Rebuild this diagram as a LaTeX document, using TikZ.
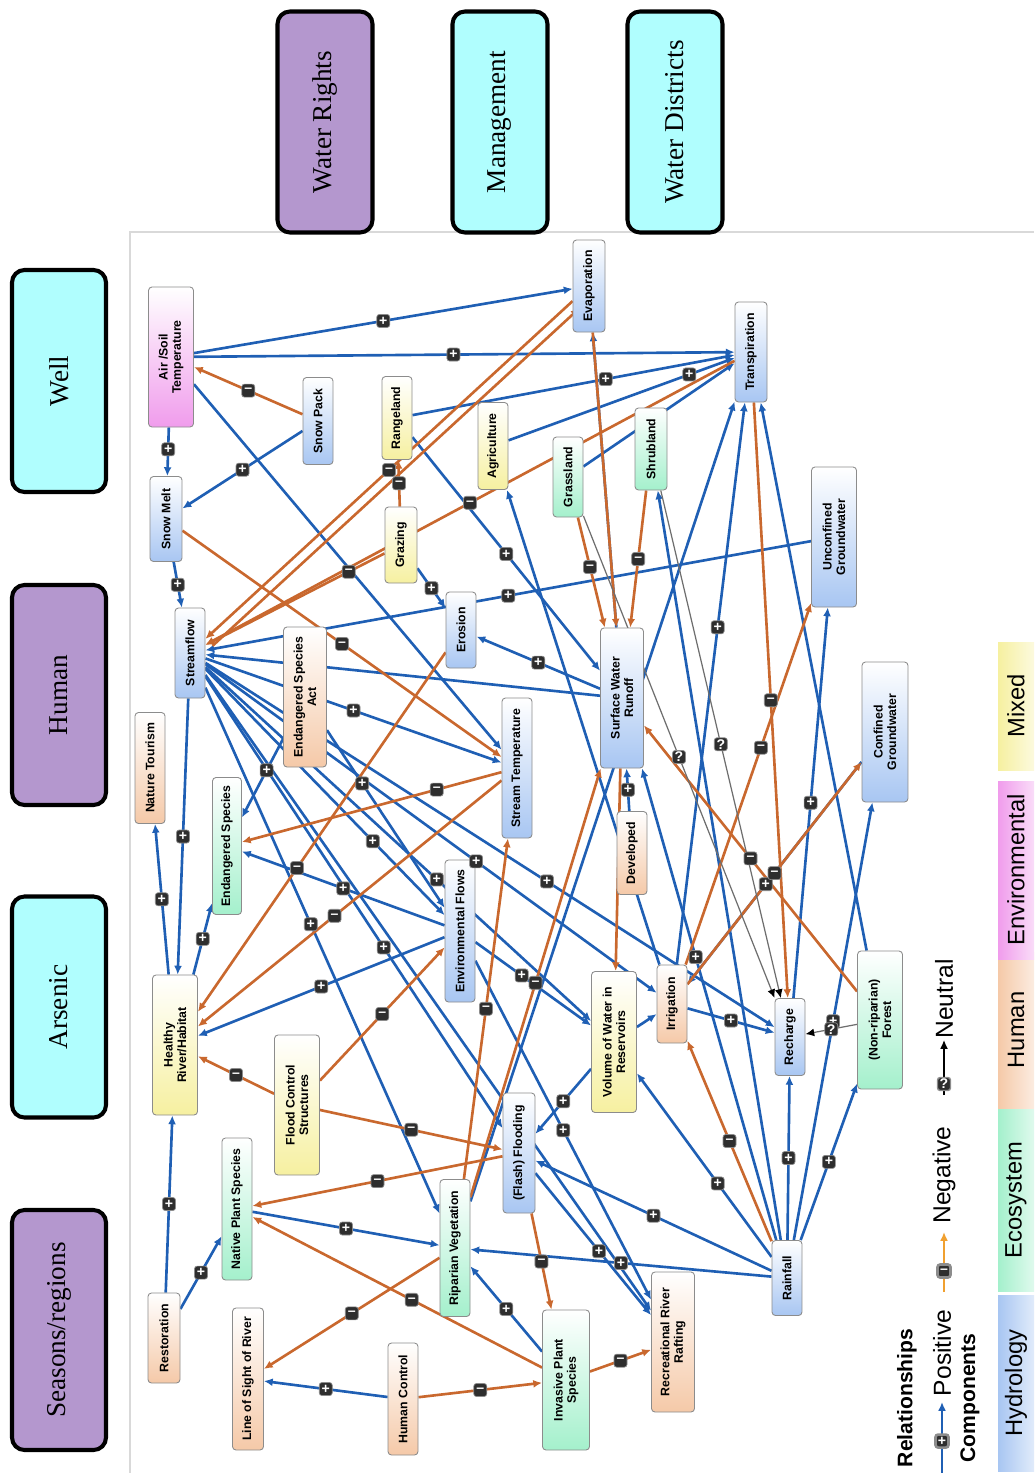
\documentclass[tikz,border=0pt]{standalone}
\usepackage{fontspec}
\setmainfont{Liberation Serif}
\setsansfont{Liberation Sans}
\usepackage{graphicx}
\usetikzlibrary{arrows.meta,backgrounds}
\definecolor{cPos}{HTML}{1F5FB4}
\definecolor{cNeg}{HTML}{C9682E}
\definecolor{cNeu}{HTML}{6E6E6E}
\definecolor{cAmb}{HTML}{F0A030}
\definecolor{cHyd}{HTML}{A8C6F2}
\definecolor{cEco}{HTML}{A4F0CC}
\definecolor{cHum}{HTML}{F5C9A8}
\definecolor{cEnv}{HTML}{F09CEC}
\definecolor{cMix}{HTML}{F6F0A0}
\definecolor{cPur}{HTML}{B497CE}
\definecolor{cCya}{HTML}{B0FEFE}
\newcommand{\pxu}{0.02cm}
\newcommand{\netfont}{\sffamily\bfseries\fontsize{7}{7.6}\selectfont}
\tikzset{
  cmp/.style={draw=black!45, line width=0.5pt, rounded corners=2pt, rotate=90, align=center, inner sep=1pt, font=\netfont},
  hyd/.style={cmp, top color=white, bottom color=cHyd},
  eco/.style={cmp, top color=white, bottom color=cEco},
  hum/.style={cmp, top color=white, bottom color=cHum},
  env/.style={cmp, top color=white, bottom color=cEnv},
  mix/.style={cmp, top color=white, bottom color=cMix},
  topic/.style={draw=black, line width=2.3pt, rounded corners=0.25cm, rotate=90, inner sep=0pt, font=\rmfamily\fontsize{15.5}{16}\selectfont},
  tpur/.style={topic, fill=cPur},
  tcya/.style={topic, fill=cCya},
  posln/.style={draw=cPos, line width=1.5pt, -{Latex[length=5pt,width=4.5pt]}},
  negln/.style={draw=cNeg, line width=1.5pt, -{Latex[length=5pt,width=4.5pt]}},
  neuln/.style={draw=cNeu, line width=0.7pt, -{Latex[length=5pt,width=4.5pt,black]}},
  mk/.style={fill=black!82, draw=black!45, rounded corners=1.5pt, minimum size=0.26cm, inner sep=0pt, text=white, font=\sffamily\bfseries\fontsize{8}{8}\selectfont},
  lgd/.style={rotate=90, inner sep=0pt, font=\sffamily\fontsize{14}{15}\selectfont},
  lgdb/.style={rotate=90, inner sep=0pt, font=\sffamily\bfseries\fontsize{12}{13}\selectfont},
  band/.style={minimum width=36*\pxu, inner sep=0pt, font=\sffamily\fontsize{13.5}{14}\selectfont},
}
% edge lists: source/target/marker position
\newcommand{\posmk}{airsoil/evap/0.5, airsoil/transp/0.48, snowpack/snowmelt/0.5, airsoil/snowmelt/0.45,
  snowmelt/stream/0.5, rangeland/transp/0.6, agri/transp/0.8, ungw/stream/0.5, recharge/ungw/0.5,
  cngw/irrig/0.55, irrig/transp/0.6, rain/cngw/0.5, irrig/recharge/0.5, rain/recharge/0.5,
  rain/forest/0.5, rain/resv/0.4, rain/riparian/0.5, rain/flash/0.5, envfl/rafting/0.5,
  flash/rafting/0.55, stream/habitat/0.5, esa/endsp/0.4, envfl/endsp/0.5, envfl/habitat/0.5,
  habitat/tourism/0.5, habitat/endsp/0.5, native/riparian/0.5, invasive/riparian/0.5,
  hctrl/sight/0.5, restor/habitat/0.5, restor/native/0.5, resv/flash/0.5, devel/runoff/0.5,
  runoff/erosion/0.5, grazing/erosion/0.5, rangeland/runoff/0.5, stream/riparian/0.45,
  stream/flash/0.6, stream/resv/0.6, stream/irrig/0.6, stream/recharge/0.6, stream/envfl/0.7,
  stream/stemp/0.5, esa/envfl/0.3, envfl/resv/0.4, rain/runoff/0.6}
\newcommand{\posplain}{airsoil/stemp, grass/transp, riparian/transp, forest/transp, runoff/evap,
  runoff/stream, irrig/agri, rain/shrub, stream/rafting, resv/irrig}
\newcommand{\negmk}{snowpack/airsoil/0.5, evap/stream/0.5, grazing/rangeland/0.5, transp/stream/0.5,
  grazing/stream/0.2, transp/recharge/0.5, shrub/runoff/0.5, grass/runoff/0.45, irrig/ungw/0.6,
  irrig/cngw/0.5, forest/runoff/0.5, snowmelt/stemp/0.5, stemp/endsp/0.25, stemp/habitat/0.55,
  erosion/habitat/0.6, floodctl/habitat/0.5, floodctl/envfl/0.5, floodctl/flash/0.5,
  flash/native/0.5, flash/invasive/0.5, invasive/native/0.45, riparian/sight/0.5,
  hctrl/invasive/0.5, invasive/rafting/0.5, riparian/stemp/0.5, riparian/runoff/0.5, rain/irrig/0.5}
\newcommand{\negplain}{evap/runoff, runoff/resv}
\newcommand{\neumk}{grass/recharge/0.5, shrub/recharge/0.5, forest/recharge/0.5}
\begin{document}
\begin{tikzpicture}[x=0.02cm, y=-0.02cm]
  \useasboundingbox (0,0) rectangle (1034,1473);
  \draw[black!15, line width=1pt] (130,1473) -- (130,232) -- (1034,232);

  % topic boxes
  \node[tpur, minimum width=221*\pxu, minimum height=95*\pxu] (wrights) at (325,122) {Water Rights};
  \node[tcya, minimum width=221*\pxu, minimum height=95*\pxu] (mgmt) at (500,122) {Management};
  \node[tcya, minimum width=221*\pxu, minimum height=95*\pxu] (wdist) at (675,122) {Water Districts};
  \node[tcya, minimum width=222*\pxu, minimum height=94*\pxu] (well) at (59,381) {Well};
  \node[tpur, minimum width=220*\pxu, minimum height=94*\pxu] (human) at (59,695) {Human};
  \node[tcya, minimum width=221*\pxu, minimum height=94*\pxu] (arsenic) at (59,1007) {Arsenic};
  \node[tpur, minimum width=240*\pxu, minimum height=94*\pxu] (seasons) at (59,1330) {Seasons/regions};

  % components
  \foreach \nm/\x/\y/\w/\h/\cl/\tx in {
    airsoil/171/357/45/140/env/{Air /Soil\\Temperature},
    snowpack/318/421/30/87/hyd/{Snow Pack},
    snowmelt/166/519/32/85/hyd/{Snow Melt},
    rangeland/397/418/30/83/mix/{Rangeland},
    grazing/401/545/32/76/mix/{Grazing},
    agri/493/446/30/87/mix/{Agriculture},
    grass/568/477/30/80/eco/{Grassland},
    evap/589/286/32/92/hyd/{Evaporation},
    transp/751/352/32/100/hyd/{Transpiration},
    shrub/651/449/32/82/eco/{Shrubland},
    ungw/834/537/45/140/hyd/{Unconfined\\Groundwater},
    stream/190/653/30/90/hyd/{Streamflow},
    erosion/461/630/30/76/hyd/{Erosion},
    esa/305/697/43/140/hum/{Endangered Species\\Act},
    tourism/150/768/30/111/hum/{Nature Tourism},
    endsp/227/846/29/137/eco/{Endangered Species},
    stemp/517/768/30/140/hyd/{Stream Temperature},
    envfl/460/931/30/142/hyd/{Environmental Flows},
    habitat/175/1045/45/140/mix/{Healthy\\River/Habitat},
    runoff/622/698/43/140/hyd/{Surface Water\\Runoff},
    cngw/885/732/46/140/hyd/{Confined\\Groundwater},
    devel/632/853/30/83/hum/{Developed},
    irrig/672/1004/30/78/hum/{Irrigation},
    resv/614/1042/45/141/mix/{Volume of Water in\\Reservoirs},
    recharge/790/1037/30/77/hyd/{Recharge},
    forest/880/1020/45/138/eco/{(Non-riparian)\\Forest},
    floodctl/297/1105/45/140/mix/{Flood Control\\Structures},
    flash/519/1153/32/120/hyd/{(Flash) Flooding},
    native/237/1209/30/142/eco/{Native Plant Species},
    riparian/455/1248/30/137/eco/{Riparian Vegetation},
    restor/164/1338/32/90/hum/{Restoration},
    sight/248/1379/31/142/hum/{Line of Sight of River},
    hctrl/403/1399/30/112/hum/{Human Control},
    invasive/566/1380/47/140/eco/{Invasive Plant\\Species},
    rafting/673/1342/43/140/hum/{Recreational River\\Rafting},
    rain/787/1278/30/75/hyd/{Rainfall}}
    \node[\cl, minimum width=\h*\pxu, minimum height=\w*\pxu] (\nm) at (\x,\y) {\tx};

  % relationships
  \begin{scope}[on background layer]
    \foreach \a/\b/\p in \posmk {\draw[posln] (\a) -- (\b);}
    \foreach \a/\b in \posplain {\draw[posln] (\a) -- (\b);}
    \foreach \a/\b/\p in \negmk {\draw[negln] (\a) -- (\b);}
    \foreach \a/\b in \negplain {\draw[negln] (\a) -- (\b);}
    \foreach \a/\b/\p in \neumk {\draw[neuln] (\a) -- (\b);}
    \draw[negln, transform canvas={shift={(4pt,-4pt)}}] (stream) -- (evap);
  \end{scope}
  \foreach \a/\b/\p in \posmk {\path (\a) -- node[mk, pos=\p] (mk-\a-\b) {+} (\b);}
  \foreach \a/\b/\p in \negmk {\path (\a) -- node[mk, pos=\p] (mk-\a-\b) {\textendash} (\b);}
  \foreach \a/\b/\p in \neumk {\path (\a) -- node[mk, pos=\p] (mk-\a-\b) {?} (\b);}

  % legend
  \node[lgdb] (lgrel) at (907,1398) {Relationships};
  \coordinate (pos0) at (942,1473);
  \coordinate (pos1) at (942,1402);
  \draw[posln] (pos0) -- node[mk, pos=0.45] (lgpm) {+} (pos1);
  \node[lgd] (lgpos) at (942,1353) {Positive};
  \coordinate (neg0) at (944,1292);
  \coordinate (neg1) at (944,1232);
  \draw[negln, draw=cAmb] (neg0) -- node[mk, pos=0.35] (lgnm) {\textendash} (neg1);
  \node[lgd] (lgneg) at (944,1175) {Negative};
  \coordinate (neu0) at (944,1095);
  \coordinate (neu1) at (944,1040);
  \draw[black, line width=0.8pt, -{Latex[length=5pt,width=4.5pt]}] (neu0) -- node[mk, pos=0.2] (lgqm) {?} (neu1);
  \node[lgd] (lgneu) at (944,999) {Neutral};
  \node[lgdb] (lgcmp) at (970,1398) {Components};
  \foreach \nm/\y/\h/\cl/\tx in {bhyd/1383/176/cHyd/Hydrology, beco/1200/182/cEco/Ecosystem,
    bhum/1030/156/cHum/Human, benv/870/178/cEnv/Environmental, bmix/706/128/cMix/Mixed}
    \node[band, minimum height=\h*\pxu, left color=\cl, right color=\cl!35] (\nm) at (1016,\y)
      {\rotatebox{90}{\tx}};
\end{tikzpicture}
\end{document}
